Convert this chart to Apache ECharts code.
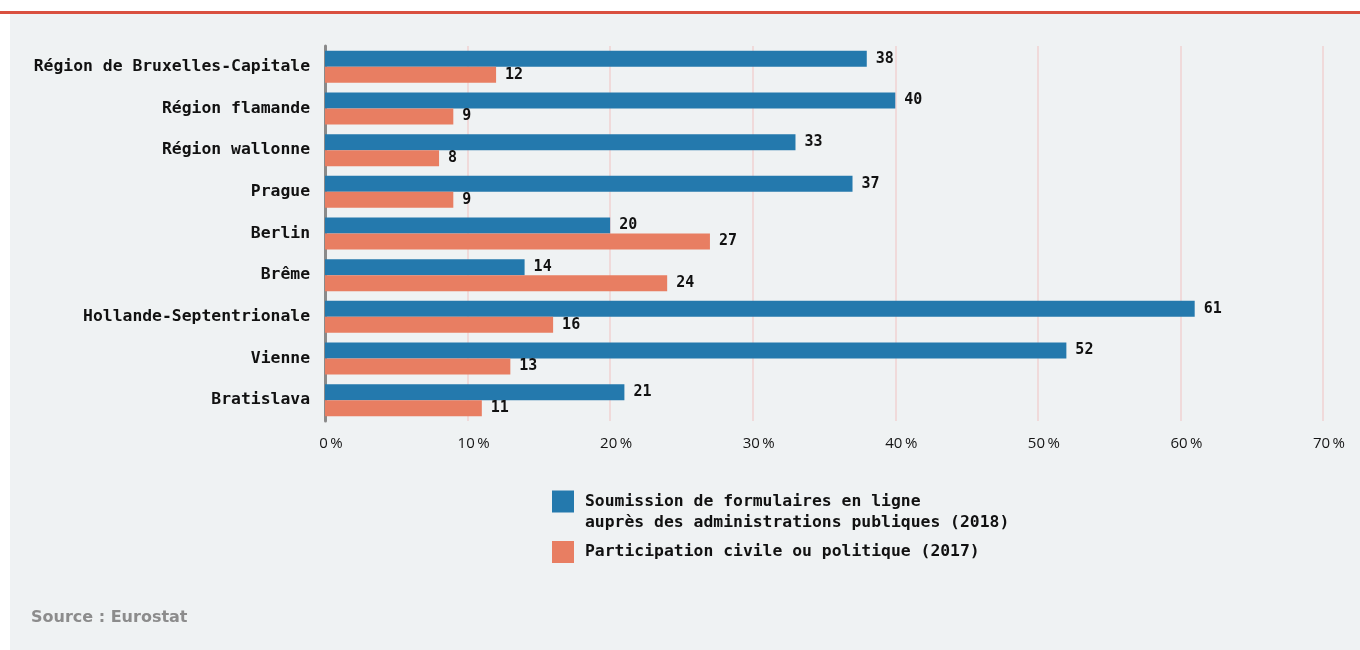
<!DOCTYPE html>
<html>
<head>
<meta charset="utf-8">
<script src="https://cdn.jsdelivr.net/npm/echarts@6/dist/echarts.min.js"></script>
<style>
  html, body { margin: 0; padding: 0; background: #ffffff; }
  #chart { width: 1360px; height: 650px; }
</style>
</head>
<body>
<div id="chart"></div>
<script>
// Regions (top to bottom)
const regions = [
  'Région de Bruxelles-Capitale',
  'Région flamande',
  'Région wallonne',
  'Prague',
  'Berlin',
  'Brême',
  'Hollande-Septentrionale',
  'Vienne',
  'Bratislava'
];

// Share of individuals (%)
const onlineForms = [38, 40, 33, 37, 20, 14, 61, 52, 21];
const civicParticipation = [12, 9, 8, 9, 27, 24, 16, 13, 11];

const seriesNames = [
  'Soumission de formulaires en ligne\nauprès des administrations publiques (2018)',
  'Participation civile ou politique (2017)'
];

const xTicks = [0, 10, 20, 30, 40, 50, 60, 70];

const mono = '"DejaVu Sans Mono", monospace';
const sans = '"Open Sans", "Noto Sans", sans-serif';

const chart = echarts.init(document.getElementById('chart'));

const valueLabel = {
  show: true,
  position: 'right',
  distance: 9,
  fontFamily: mono,
  fontWeight: 'bold',
  fontSize: 15,
  color: '#111111'
};

chart.setOption({
  animation: false,
  backgroundColor: '#ffffff',
  graphic: [
    { type: 'rect', left: 10, top: 14, shape: { width: 1350, height: 636 }, style: { fill: '#eff2f3' }, z: -10 },
    { type: 'rect', left: 0, top: 11, shape: { width: 1360, height: 3 }, style: { fill: '#d9503f' }, z: -9 },
    { type: 'text', left: 31, top: 610, style: { text: 'Source : Eurostat', fill: '#8c8c8c', font: 'bold 16px "DejaVu Sans", sans-serif' } }
  ],
  grid: { left: 325, right: 37, top: 46, bottom: 229, containLabel: false },
  xAxis: {
    type: 'value',
    min: 0,
    max: 70,
    interval: 10,
    axisLine: { show: false },
    axisTick: { show: false },
    splitLine: { show: true, lineStyle: { color: '#f1d2d2', width: 1.5 } },
    axisLabel: {
      margin: 15,
      padding: [0, 0, 0, 12],
      fontFamily: sans,
      fontSize: 15,
      color: '#151515',
      formatter: v => xTicks.includes(v) ? v + '\u2009%' : ''
    }
  },
  yAxis: {
    type: 'category',
    data: regions,
    inverse: true,
    axisLine: { show: true, lineStyle: { color: '#8a8a8a', width: 3 } },
    axisTick: { show: false },
    axisLabel: {
      margin: 15,
      fontFamily: mono,
      fontWeight: 'bold',
      fontSize: 16.4,
      color: '#111111'
    }
  },
  legend: {
    orient: 'vertical',
    left: 552,
    top: 470,
    padding: 0,
    itemWidth: 22,
    itemHeight: 22,
    itemGap: 8,
    icon: 'rect',
    selectedMode: false,
    // the two-line entry starts with an empty line so its text sits below the swatch top
    formatter: name => name.indexOf('\n') >= 0 ? '\n' + name : name,
    textStyle: {
      fontFamily: mono,
      fontWeight: 'bold',
      fontSize: 16.4,
      lineHeight: 21,
      color: '#111111',
      padding: [0, 0, 0, 6]
    },
    data: seriesNames
  },
  series: [
    {
      name: seriesNames[0],
      type: 'bar',
      data: onlineForms,
      barWidth: 16,
      barGap: '0%',
      itemStyle: { color: '#2479ad' },
      label: valueLabel
    },
    {
      name: seriesNames[1],
      type: 'bar',
      data: civicParticipation,
      barWidth: 16,
      barGap: '0%',
      itemStyle: { color: '#e87e62' },
      label: valueLabel
    }
  ]
});
</script>
</body>
</html>
